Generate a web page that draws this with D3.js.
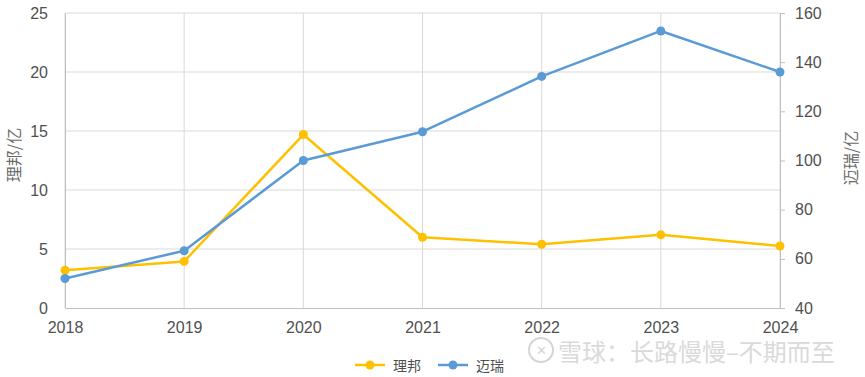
<!DOCTYPE html>
<html>
<head>
<meta charset="utf-8">
<script src="https://cdn.jsdelivr.net/npm/d3@7"></script>
<style>
  body { margin: 0; background: #fff; }
  svg text { font-family: "Liberation Sans", "Noto Sans CJK SC", sans-serif; fill: #595959; }
  .cjk { font-family: "Noto Sans CJK SC", sans-serif; }
</style>
</head>
<body>
<div id="chart"></div>
<script>
const years = ['2018', '2019', '2020', '2021', '2022', '2023', '2024'];
const libang = [3.2, 3.95, 14.7, 6.0, 5.4, 6.2, 5.25];
const mindray = [52.0, 63.3, 100.0, 111.7, 134.2, 152.7, 136.0];
const leftTicks = [0, 5, 10, 15, 20, 25];
const rightTicks = [40, 60, 80, 100, 120, 140, 160];

const width = 865, height = 377;
const plotLeft = 65, plotRight = 780, plotTop = 13, plotBottom = 308;
const yellow = '#FFC000', blue = '#5B9BD5', grid = '#d9d9d9';
const textColor = '#505050';

const svg = d3.select('#chart').append('svg')
    .attr('width', width)
    .attr('height', height);

const x = d3.scalePoint().domain(years).range([plotLeft, plotRight]);
const yL = d3.scaleLinear().domain([0, 25]).range([plotBottom, plotTop]);
const yR = d3.scaleLinear().domain([40, 160]).range([plotBottom, plotTop]);

// horizontal grid (left axis)
svg.append('g').selectAll('line')
    .data(leftTicks.slice(1))
    .enter().append('line')
    .attr('x1', plotLeft).attr('x2', plotRight)
    .attr('y1', d => yL(d)).attr('y2', d => yL(d))
    .attr('stroke', grid).attr('stroke-width', 1);

// vertical grid at each year
svg.append('g').selectAll('line')
    .data(years)
    .enter().append('line')
    .attr('x1', d => x(d)).attr('x2', d => x(d))
    .attr('y1', plotTop).attr('y2', plotBottom)
    .attr('stroke', grid).attr('stroke-width', 1);

// bottom axis
const xAxis = svg.append('g')
    .attr('transform', `translate(0, ${plotBottom})`)
    .call(d3.axisBottom(x).tickSize(0).tickPadding(14));
xAxis.select('.domain').attr('stroke', '#bfbfbf');
xAxis.selectAll('text').style('font-size', '16px').style('fill', textColor);

// left axis
const yAxisL = svg.append('g')
    .attr('transform', `translate(${plotLeft}, 0)`)
    .call(d3.axisLeft(yL).tickValues(leftTicks).tickSize(0).tickPadding(17));
yAxisL.select('.domain').attr('stroke', '#bfbfbf');
yAxisL.selectAll('text').style('font-size', '16px').style('fill', textColor);

// right axis
const yAxisR = svg.append('g')
    .attr('transform', `translate(${plotRight}, 0)`)
    .call(d3.axisRight(yR).tickValues(rightTicks).tickSize(5).tickSizeOuter(0).tickPadding(10));
yAxisR.select('.domain').attr('stroke', '#bfbfbf');
yAxisR.selectAll('line').attr('stroke', '#bfbfbf');
yAxisR.selectAll('text').style('font-size', '16px').style('fill', textColor);

// axis titles
svg.append('text')
    .attr('class', 'cjk')
    .attr('transform', `translate(13, 155) rotate(-90)`)
    .attr('text-anchor', 'middle')
    .attr('dominant-baseline', 'central')
    .style('font-size', '16px')
    .style('fill', '#6a6a6a')
    .text('理邦/亿');

svg.append('text')
    .attr('class', 'cjk')
    .attr('transform', `translate(850, 158) rotate(-90)`)
    .attr('text-anchor', 'middle')
    .attr('dominant-baseline', 'central')
    .style('font-size', '16px')
    .style('fill', '#6a6a6a')
    .text('迈瑞/亿');

// series
const series = [
    { name: '理邦', values: libang, y: yL, color: yellow },
    { name: '迈瑞', values: mindray, y: yR, color: blue }
];

series.forEach(s => {
    const line = d3.line()
        .x((d, i) => x(years[i]))
        .y(d => s.y(d));
    svg.append('path')
        .datum(s.values)
        .attr('d', line)
        .attr('fill', 'none')
        .attr('stroke', s.color)
        .attr('stroke-width', 2.5)
        .attr('stroke-linejoin', 'round');
    svg.append('g').selectAll('circle')
        .data(s.values)
        .enter().append('circle')
        .attr('cx', (d, i) => x(years[i]))
        .attr('cy', d => s.y(d))
        .attr('r', 4.5)
        .attr('fill', s.color);
});

// legend
const legend = svg.append('g').attr('transform', 'translate(355, 365)');
series.forEach((s, i) => {
    const g = legend.append('g').attr('transform', `translate(${i * 83}, 0)`);
    g.append('line')
        .attr('x1', 0).attr('x2', 30)
        .attr('stroke', s.color).attr('stroke-width', 2.5);
    g.append('circle').attr('cx', 15).attr('r', 4.5).attr('fill', s.color);
    g.append('text')
        .attr('class', 'cjk')
        .attr('x', 38)
        .attr('dominant-baseline', 'central')
        .style('font-size', '14px')
        .style('fill', textColor)
        .text(s.name);
});

// watermark
const wm = svg.append('g').attr('opacity', 0.9);
wm.append('circle')
    .attr('cx', 541).attr('cy', 350).attr('r', 12)
    .attr('fill', 'none').attr('stroke', '#d0d0d0').attr('stroke-width', 2);
wm.append('text')
    .attr('x', 541).attr('y', 350)
    .attr('text-anchor', 'middle')
    .attr('dominant-baseline', 'central')
    .style('font-size', '13px')
    .style('fill', '#d0d0d0')
    .text('✕');
wm.append('text')
    .attr('class', 'cjk')
    .attr('x', 558).attr('y', 350)
    .attr('dominant-baseline', 'central')
    .style('font-size', '24px')
    .style('fill', '#d6d6d6')
    .text('雪球：长路慢慢–不期而至');
</script>
</body>
</html>
